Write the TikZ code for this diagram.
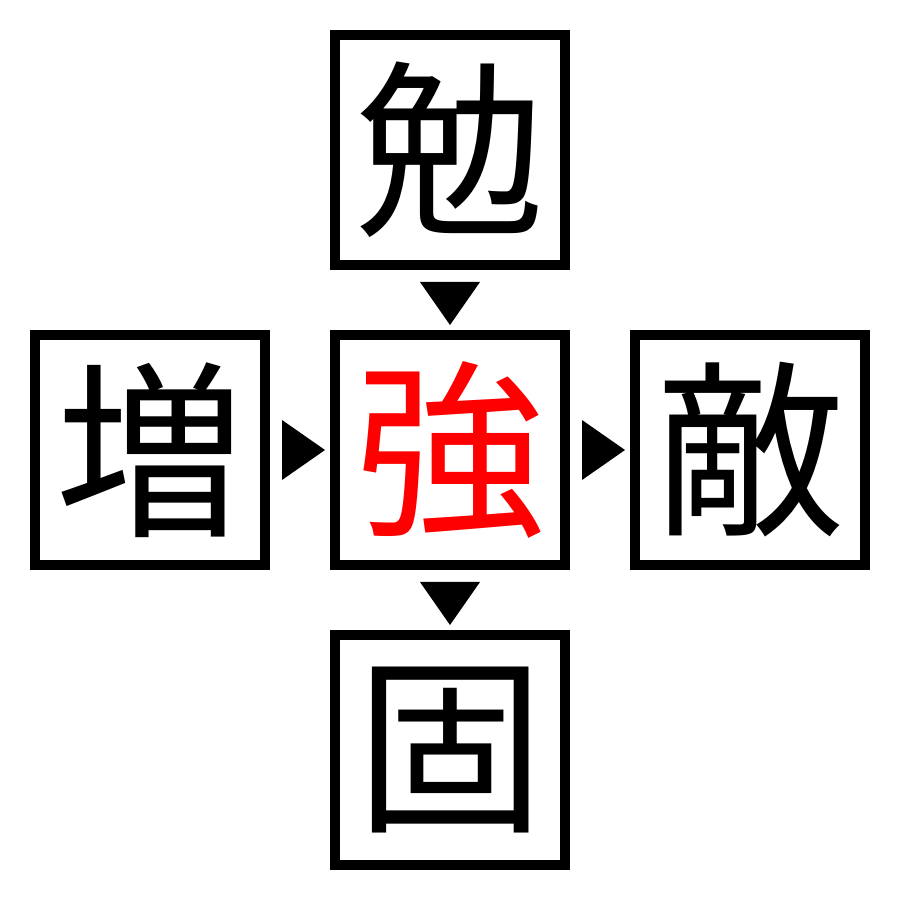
\documentclass[tikz,border=0pt]{standalone}
\usepackage{fontspec}
\newfontfamily\cjk{Noto Sans CJK JP}
\usepackage{tikz}
\usetikzlibrary{positioning}
\usepackage{xcolor}

\begin{document}
\begin{tikzpicture}[%
    node distance=6mm,kanji/.style={%
      rectangle,draw,line width=1mm,minimum size=23mm,inner sep=0pt,
      font=\cjk\fontsize{54pt}{54pt}\selectfont}
  ]
    \useasboundingbox (0,0) rectangle (9,9);
    \node[kanji,text=red] (strong) at (4.5,4.5)      {強};
    \node[kanji] (study) [above=of strong]   {勉};
    \node[kanji] (incr)  [left=of strong]    {増};
    \node[kanji] (foe)   [right=of strong]   {敵};
    \node[kanji] (firm)  [below=of strong]   {固};
    % markers between the boxes
    \fill[shift={(strong.north)}] (-0.3,0.48) -- (0.3,0.48) -- (0,0.05) -- cycle;
    \fill[shift={(strong.west)}]  (-0.48,0.3) -- (-0.48,-0.3) -- (-0.05,0) -- cycle;
    \fill[shift={(strong.east)}]  (0.12,0.3) -- (0.12,-0.3) -- (0.55,0) -- cycle;
    \fill[shift={(strong.south)}] (-0.3,-0.12) -- (0.3,-0.12) -- (0,-0.55) -- cycle;
\end{tikzpicture}
\end{document}
